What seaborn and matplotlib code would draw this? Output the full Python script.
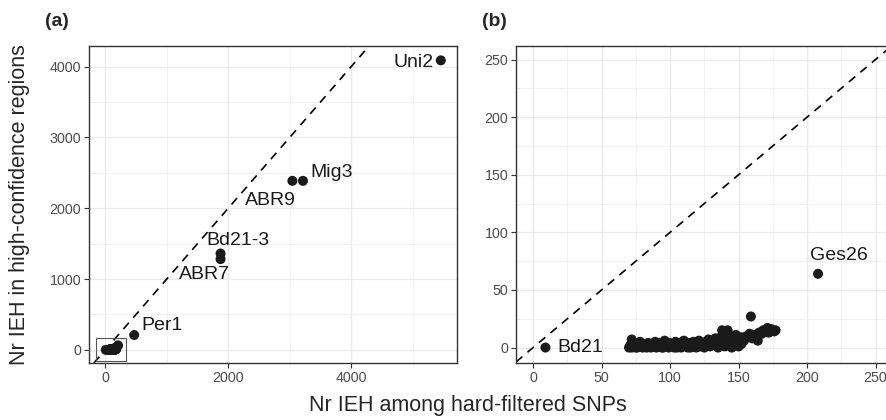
import pandas as pd
import matplotlib.pyplot as plt
import matplotlib.patches as mpatches
from matplotlib.ticker import MultipleLocator
import seaborn as sns

# named accessions (panel a)
named_names = ['Uni2', 'Mig3', 'ABR9', 'Bd21-3', 'ABR7', 'Per1']
named_x = [5457, 3215, 3043, 1875, 1875, 470]
named_y = [4088, 2387, 2387, 1361, 1282, 210]

# labelled accessions of panel b
small_names = ['Bd21', 'Ges26']
small_x = [9, 208]
small_y = [0, 64]

# the bulk of accessions
bulk_x = [70, 71, 72, 72, 73, 74, 75, 76, 77, 78, 79, 80,
          81, 82, 83, 84, 85, 86, 87, 88, 89, 90,
          91, 92, 93, 94, 95, 96, 97, 98, 99, 100,
          101, 102, 103, 104, 105, 106, 107, 108, 109, 110,
          111, 112, 113, 114, 115, 116, 117, 118, 119, 120,
          121, 122, 123, 124, 125, 126, 127, 128, 129, 130,
          131, 132, 133, 134, 135, 136, 137, 138, 139, 140,
          141, 142, 143, 144, 145, 146, 147, 148, 149, 150,
          152, 154, 156, 158, 159, 160,
          162, 164, 165, 167, 168, 170, 171, 172, 174, 176, 177,
          75, 85, 95, 105, 115, 125, 135, 140, 145, 150, 148, 152]
bulk_y = [0, 2, 7, 0, 3, 1, 4, 0, 2, 5, 1, 0,
          3, 1, 0, 4, 2, 0, 3, 1, 5, 0,
          2, 4, 1, 0, 3, 6, 1, 2, 0, 4,
          1, 3, 0, 5, 2, 1, 4, 0, 3, 6,
          1, 2, 0, 4, 3, 1, 5, 2, 0, 3,
          6, 1, 4, 2, 0, 5, 3, 7, 1, 4,
          2, 6, 8, 3, 1, 5, 9, 15, 4, 7,
          2, 15, 10, 6, 3, 8, 5, 11, 2, 7,
          9, 6, 10, 12, 27, 8,
          11, 6, 13, 12, 15, 14, 17, 13, 16, 14, 15,
          0, 1, 0, 0, 0, 1, 0, 1, 0, 1, 4, 3]

inset_box = [-150, 330, -150, 165]  # xmin, xmax, ymin, ymax

# label offsets in points (dx, dy, ha)
offsets_a = {'Uni2': (-5.5, -1.7, 'right'), 'Mig3': (5.5, 6.2, 'left'),
             'ABR9': (2.4, -14.2, 'right'), 'Bd21-3': (-10, 9.6, 'left'),
             'ABR7': (6.7, -11.3, 'right'), 'Per1': (5.5, 7.2, 'left')}
offsets_b = {'Bd21': (8.6, 0, 'left'), 'Ges26': (-6, 13.2, 'left')}

bulk = pd.DataFrame({'x': bulk_x + small_x, 'y': bulk_y + small_y})
named = pd.DataFrame({'name': named_names, 'x': named_x, 'y': named_y})
small = pd.DataFrame({'name': small_names, 'x': small_x, 'y': small_y})
alldata = pd.concat([bulk, named[['x', 'y']]], ignore_index=True)

sns.set_style('white')
plt.rcParams['font.family'] = ['Liberation Sans', 'DejaVu Sans']

fig = plt.figure(figsize=(8.87, 4.2), dpi=100)
ax1 = fig.add_axes([0.1003, 0.1357, 0.4149, 0.7555])
# panel b runs past the right edge of the picture, as in the original
ax2 = fig.add_axes([516 / 887, 0.1357, (892 - 516) / 887, 0.7555])

pt_col = '#1a1a1a'
lab_size = 14


def style(ax, major, minor):
    ax.xaxis.set_major_locator(MultipleLocator(major))
    ax.yaxis.set_major_locator(MultipleLocator(major))
    ax.xaxis.set_minor_locator(MultipleLocator(minor))
    ax.yaxis.set_minor_locator(MultipleLocator(minor))
    ax.grid(which='major', color='#ebebeb', lw=1.0, zorder=0)
    ax.grid(which='minor', color='#f0f0f0', lw=0.6, zorder=0)
    ax.set_axisbelow(True)
    for s in ax.spines.values():
        s.set_color('#333333')
        s.set_linewidth(1.0)
        s.set_visible(True)
    ax.tick_params(which='major', length=3.5, width=0.8, color='#333333',
                   labelsize=10.3, labelcolor='#4d4d4d', left=True, bottom=True,
                   pad=2)
    ax.tick_params(which='minor', length=0)
    ax.set_xlabel('')
    ax.set_ylabel('')


# panel a
ax1.axline((0, 0), slope=1, color='black', ls=(0, (5, 4)), lw=1.2, zorder=1)
sns.scatterplot(data=alldata, x='x', y='y', ax=ax1, color=pt_col, s=52,
                edgecolor='none', zorder=3)
ax1.add_patch(mpatches.Rectangle((inset_box[0], inset_box[2]),
                                 inset_box[1] - inset_box[0],
                                 inset_box[3] - inset_box[2],
                                 fill=False, ec='#555555', lw=0.8, zorder=4))
for _, r in named.iterrows():
    dx, dy, ha = offsets_a[r['name']]
    ax1.annotate(r['name'], (r['x'], r['y']), xytext=(dx, dy),
                 textcoords='offset points', ha=ha, va='center',
                 fontsize=lab_size, color='#1a1a1a')
ax1.set_xlim(-265, 5720)
ax1.set_ylim(-185, 4295)
style(ax1, 2000, 1000)
ax1.yaxis.set_major_locator(MultipleLocator(1000))
ax1.yaxis.set_minor_locator(MultipleLocator(500))

# panel b
ax2.axline((0, 0), slope=1, color='black', ls=(0, (5, 4)), lw=1.2, zorder=1)
sns.scatterplot(data=bulk, x='x', y='y', ax=ax2, color=pt_col, s=52,
                edgecolor='none', zorder=3)
for _, r in small.iterrows():
    dx, dy, ha = offsets_b[r['name']]
    ax2.annotate(r['name'], (r['x'], r['y']), xytext=(dx, dy),
                 textcoords='offset points', ha=ha, va='center',
                 fontsize=lab_size, color='#1a1a1a')
ax2.set_xlim(-12.5, 262)
ax2.set_ylim(-13.4, 262)
style(ax2, 50, 25)

fig.text(45 / 887, 1 - 22 / 420, '(a)', fontsize=14, fontweight='bold',
         ha='left', va='center')
fig.text(482 / 887, 1 - 22 / 420, '(b)', fontsize=14, fontweight='bold',
         ha='left', va='center')
fig.text(467.5 / 887, 1 - 406 / 420, 'Nr IEH among hard-filtered SNPs',
         fontsize=15.5, ha='center', va='center')
fig.text(20 / 887, 1 - 205 / 420, 'Nr IEH in high-confidence regions',
         fontsize=15.5, ha='center', va='center', rotation=90)

fig.savefig('out.png', dpi=100)
